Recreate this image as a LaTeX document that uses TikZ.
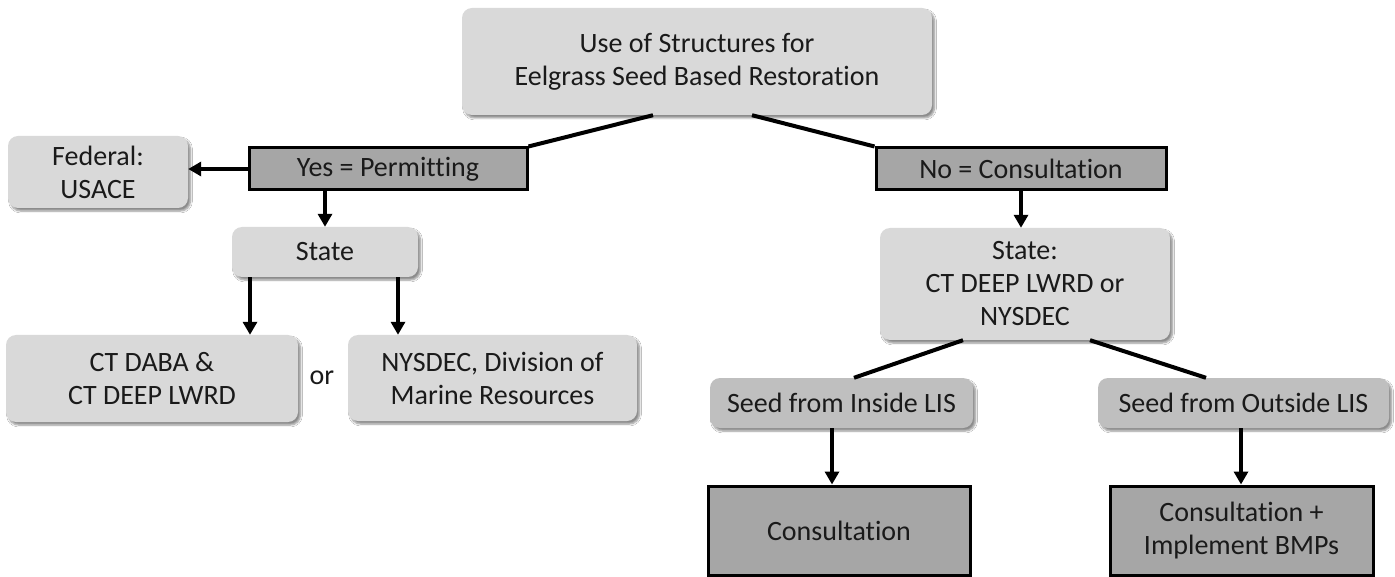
\documentclass[tikz,border=0pt]{standalone}
\usepackage{fontspec}
\setmainfont{Carlito}[Ligatures={NoCommon}]
\usetikzlibrary{arrows.meta,shadows.blur}
\definecolor{lightbox}{HTML}{D9D9D9}
\definecolor{midbox}{HTML}{BFBFBF}
\definecolor{darkbox}{HTML}{A6A6A6}
\definecolor{txt}{HTML}{1A1A1A}
\tikzset{
  base/.style={inner sep=0pt, align=center, text=txt, font={\fontsize{28}{33}\selectfont}},
  soft/.style={base, fill=lightbox, rounded corners=10pt,
    blur shadow={shadow xshift=2.5pt, shadow yshift=-3pt, shadow blur steps=6, shadow opacity=45}},
  seedbox/.style={soft, fill=midbox},
  hardbox/.style={base, fill=darkbox, draw=black, line width=3pt},
  arr/.style={line width=3.5pt, -{Triangle[length=13pt,width=14pt]}},
  link/.style={line width=4pt},
  sz/.style 2 args={minimum width=#1pt, minimum height=#2pt}
}
\begin{document}
\begin{tikzpicture}[x=1pt,y=-1pt]
\useasboundingbox (0,0) rectangle (1395,577);
\fill[white] (0,0) rectangle (1395,577);

\node[soft, sz={470}{107}] (top) at (697,61.5) {Use of Structures for\\Eelgrass Seed Based Restoration};
\node[soft, sz={180}{72}] (fed) at (98,172) {Federal:\\USACE};
\node[hardbox, sz={278}{42}] (yes) at (388,169) {Yes = Permitting};
\node[hardbox, sz={290}{42}] (no) at (1021,169) {No = Consultation};
\node[soft, sz={186}{50}] (stL) at (325,252) {State};
\node[soft, sz={292}{87}] (ctd) at (152,378.5) {CT DABA \&\\CT DEEP LWRD};
\node[soft, sz={289}{86}] (nys) at (492.5,378) {NYSDEC, Division of\\Marine Resources};
\node[base] (or) at (322,378) {or};
\node[soft, sz={290}{112}] (stR) at (1025,284) {State:\\CT DEEP LWRD or\\NYSDEC};
\node[seedbox, sz={263}{50}] (sin) at (841.5,403) {Seed from Inside LIS};
\node[seedbox, sz={291}{50}] (sout) at (1243.5,403) {Seed from Outside LIS};
\node[hardbox, sz={262}{89}] (con) at (839,530.5) {Consultation};
\node[hardbox, sz={263}{89}] (bmp) at (1241.5,530.5) {Consultation +\\Implement BMPs};

\draw[link] ([xshift=-44pt]top.south) -- (yes.north east);
\draw[link] ([xshift=55pt]top.south) -- (no.north west);
\draw[arr] (yes.west) -- (yes.west -| fed.east);
\draw[arr] (stL.north |- yes.south) -- (stL.north);
\draw[arr] ([xshift=-75pt]stL.south) -- ([xshift=-75pt]stL.south |- ctd.north);
\draw[arr] ([xshift=73pt]stL.south) -- ([xshift=73pt]stL.south |- nys.north);
\draw[arr] (no.south) -- (no.south |- stR.north);
\draw[link] ([xshift=-62pt]stR.south) -- ([xshift=12.5pt]sin.north);
\draw[link] ([xshift=65pt]stR.south) -- ([xshift=-37.5pt]sout.north);
\draw[arr] ([xshift=-9.5pt]sin.south) -- ([xshift=-9.5pt]sin.south |- con.north);
\draw[arr] ([xshift=-2.5pt]sout.south) -- ([xshift=-2.5pt]sout.south |- bmp.north);
\end{tikzpicture}
\end{document}
